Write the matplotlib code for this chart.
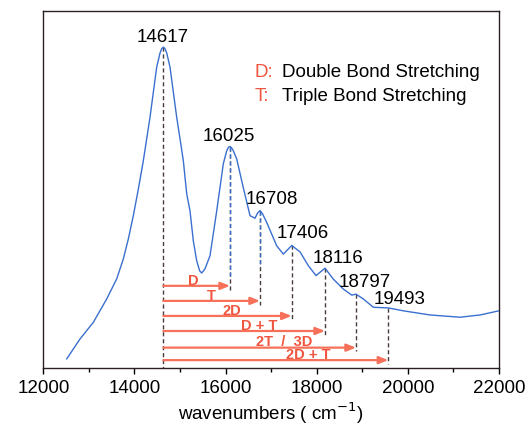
import matplotlib
matplotlib.use("Agg")
import matplotlib.pyplot as plt

plt.rcParams['font.family'] = ['Liberation Sans', 'DejaVu Sans']

# spectrum (wavenumber, intensity a.u.)
wn = [12514, 12805, 13097, 13391, 13611, 13756, 13865, 13975, 14085, 14194,
      14341, 14488, 14561, 14600, 14633, 14668, 14708, 14780, 14927, 15000,
      15072, 15147, 15219, 15292, 15366, 15430, 15476, 15548, 15658, 15805,
      15950, 16025, 16065, 16097, 16130, 16169, 16244, 16389, 16536, 16646,
      16700, 16755, 16810, 16902, 17122, 17267, 17451, 17633, 17815, 17984,
      18182, 18364, 18583, 18768, 18862, 19022, 19242, 19571, 19900, 20486,
      21144, 21583, 22000]
inten = [0.027, 0.089, 0.141, 0.214, 0.277, 0.339, 0.401, 0.474, 0.557, 0.645,
         0.781, 0.938, 0.982, 0.996, 1.000, 0.996, 0.982, 0.938, 0.781, 0.714,
         0.646, 0.542, 0.489, 0.395, 0.333, 0.302, 0.295, 0.308, 0.349, 0.489,
         0.636, 0.677, 0.688, 0.690, 0.686, 0.677, 0.651, 0.561, 0.474, 0.466,
         0.482, 0.490, 0.480, 0.453, 0.380, 0.354, 0.381, 0.361, 0.318, 0.287,
         0.310, 0.276, 0.245, 0.226, 0.229, 0.214, 0.188, 0.186, 0.177, 0.164,
         0.157, 0.164, 0.177]

# peak labels and where the marker lines sit in the picture
peak_labels = ['14617', '16025', '16708', '17406', '18116', '18797', '19493']
peak_x = [14633, 16097, 16755, 17451, 18182, 18862, 19571]
peak_y = [1.000, 0.690, 0.490, 0.381, 0.310, 0.229, 0.186]
label_x = [14627, 16075, 17019, 17699, 18456, 19060, 19827]
label_y = [1.035, 0.723, 0.529, 0.423, 0.345, 0.270, 0.214]

# assignment arrows
arrow_labels = ['D', 'T', '2D', 'D + T', '2T  /  3D', '2D + T']
arrow_y = [0.255, 0.208, 0.161, 0.114, 0.062, 0.023]
arrow_lab_x = [15292, 15695, 16134, 16733, 17275, 17809]

red = '#f0553f'
arrow_col = '#f7705a'
blue = '#3a6fd0'
dash_col = '#4a3c3c'

fig = plt.figure(figsize=(5.27, 4.27), dpi=100)
ax = fig.add_axes([0.0822, 0.137, 0.8647, 0.8356])

ax.plot(wn, inten, color=blue, lw=1.0, zorder=3)

# dashed marker lines
ax.plot([peak_x[0], peak_x[0]], [peak_y[0], 0.0], color=dash_col, lw=1.0,
        ls=(0, (3, 2)), zorder=2)
for i in range(1, len(peak_x)):
    bottom = arrow_y[i - 1] - 0.012
    ax.plot([peak_x[i], peak_x[i]], [peak_y[i], bottom], color=dash_col, lw=1.0,
            ls=(0, (3, 2)), zorder=2)
# upper parts of the first two overtone lines appear blue
ax.plot([peak_x[1], peak_x[1]], [peak_y[1], 0.285], color=blue, lw=1.0,
        ls=(0, (3, 2)), zorder=2)
ax.plot([peak_x[2], peak_x[2]], [peak_y[2], 0.32], color=blue, lw=1.0,
        ls=(0, (3, 2)), zorder=2)

for i in range(len(arrow_labels)):
    ax.annotate('', xy=(peak_x[i + 1], arrow_y[i]), xytext=(peak_x[0], arrow_y[i]),
                arrowprops=dict(arrowstyle='-|>,head_length=0.55,head_width=0.22',
                                color=arrow_col, lw=1.6, shrinkA=0, shrinkB=0),
                zorder=4)
    ax.text(arrow_lab_x[i], arrow_y[i] + 0.007, arrow_labels[i], color=red,
            fontsize=10.5, fontweight='bold', ha='center', va='baseline', zorder=5)

for i in range(len(peak_labels)):
    ax.text(label_x[i], label_y[i], peak_labels[i], fontsize=13.5,
            ha='center', va='center', color='black')

# legend-like key
ax.text(16640, 0.925, 'D:', color=red, fontsize=13.5, va='center', ha='left')
ax.text(17230, 0.925, 'Double Bond Stretching', color='black', fontsize=13.5,
        va='center', ha='left')
ax.text(16640, 0.848, 'T:', color=red, fontsize=13.5, va='center', ha='left')
ax.text(17230, 0.848, 'Triple Bond Stretching', color='black', fontsize=13.5,
        va='center', ha='left')

ax.set_xlim(12000, 22000)
ax.set_ylim(0, 1.114)
ax.set_xticks([12000, 14000, 16000, 18000, 20000, 22000])
ax.set_xticks([13000, 15000, 17000, 19000, 21000], minor=True)
ax.set_yticks([])
ax.tick_params(axis='x', which='major', direction='out', length=4.5, width=1,
               labelsize=13.5, pad=4)
ax.tick_params(axis='x', which='minor', direction='out', length=3, width=1)
for s in ax.spines.values():
    s.set_color('#2a2020')
    s.set_linewidth(1.0)

ax.set_xlabel('wavenumbers ( cm$^{-1}$)', fontsize=13.5, labelpad=2)

fig.savefig('out.png', dpi=100)
